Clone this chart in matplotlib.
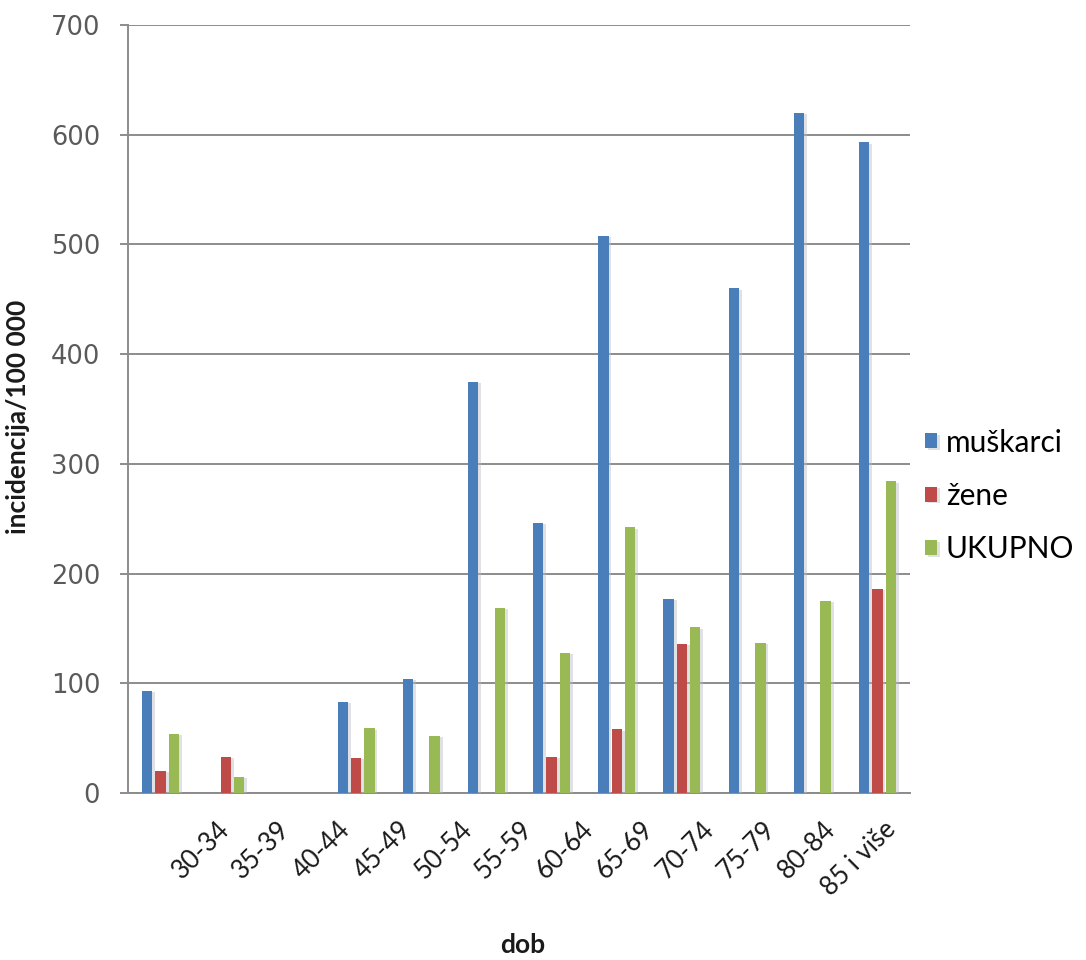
import numpy as np
import matplotlib
matplotlib.use("Agg")
import matplotlib.pyplot as plt
import matplotlib.patheffects as pe

# age groups and incidence per 100 000
categories = ['30-34', '35-39', '40-44', '45-49', '50-54', '55-59',
              '60-64', '65-69', '70-74', '75-79', '80-84', '85 i više']
muskarci = [93, 0, 0, 83, 104, 375, 246, 508, 177, 460, 620, 593]
zene = [20, 33, 0, 32, 0, 0, 33, 58, 136, 0, 0, 186]
ukupno = [54, 15, 0, 59, 52, 169, 128, 242, 151, 137, 175, 284]
series_names = ['muškarci', 'žene', 'UKUPNO']
colors = ['#4a7ebb', '#be4b48', '#98b954']

fig = plt.figure(figsize=(10.86, 9.6), dpi=100)
ax = fig.add_axes([128 / 1086, 1 - 793 / 960, 782 / 1086, 768 / 960])

x = np.arange(len(categories))
step = 0.205
width = 0.16
shadow = [pe.SimplePatchShadow(offset=(2, -1), shadow_rgbFace='#b8bec6', alpha=0.45), pe.Normal()]

handles = []
for k, vals in enumerate([muskarci, zene, ukupno]):
    b = ax.bar(x + (k - 1) * step, vals, width, color=colors[k], label=series_names[k], zorder=3)
    for p in b:
        p.set_path_effects(shadow)
    handles.append(b)

ax.set_xlim(-0.5, len(categories) - 0.5)
ax.set_ylim(0, 700)
ax.set_yticks(range(0, 701, 100))
ax.yaxis.grid(True, color='#8c8c8c', linewidth=1.4, zorder=0)
ax.set_axisbelow(True)

for s in ['top', 'right']:
    ax.spines[s].set_visible(False)
for s in ['left', 'bottom']:
    ax.spines[s].set_color('#8c8c8c')
    ax.spines[s].set_linewidth(1.4)

ax.tick_params(axis='y', length=6, width=1.4, color='#8c8c8c', pad=14,
               labelsize=18.5, labelcolor='#5a5a5a')
for t in ax.get_yticklabels():
    t.set_fontfamily('DejaVu Sans')

# rotated category labels (shifted like in the source picture)
label_pos = 0.86 + np.arange(len(categories)) * 0.93
ax.set_xticks(label_pos)
ax.set_xticklabels(categories, rotation=45, ha='right', va='top',
                   rotation_mode='anchor', fontsize=18.5, family='Lato', color='#1a1a1a')
ax.tick_params(axis='x', length=0, pad=17)

ax.set_ylabel('incidencija/100 000', fontsize=19, family='Lato', fontweight='bold',
              color='#1a1a1a')
ax.yaxis.set_label_coords(-0.125, 0.49)
fig.text(523 / 1086, 1 - 945 / 960, 'dob', fontsize=19, family='Lato', fontweight='bold',
         color='#1a1a1a', ha='center', va='center')

fig.legend(handles=handles, labels=series_names, loc='center left',
           bbox_to_anchor=(925 / 1086, 1 - 496 / 960), frameon=False,
           prop={'family': 'Lato', 'size': 21.5}, handlelength=0.4, handleheight=0.4,
           handletextpad=0.3, labelspacing=0.85, borderpad=0, borderaxespad=0)

fig.savefig('out.png', dpi=100, facecolor='white')
